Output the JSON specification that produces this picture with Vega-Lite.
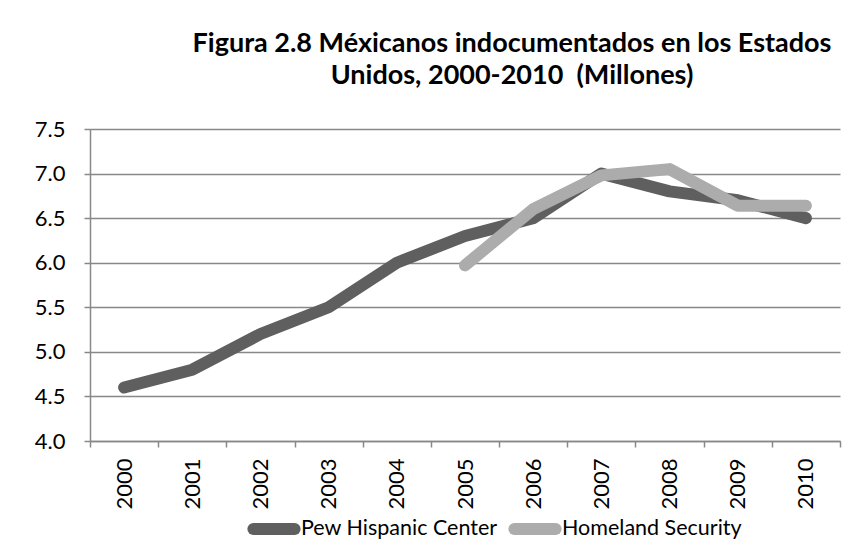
{
  "$schema": "https://vega.github.io/schema/vega-lite/v6.json",
  "width": 750,
  "height": 312,
  "autosize": "none",
  "padding": {"left": 90, "top": 129, "right": 18, "bottom": 110},
  "background": "white",
  "title": {
    "text": ["Figura 2.8 Méxicanos indocumentados en los Estados", "Unidos, 2000-2010 \u00a0(Millones)"],
    "font": "Lato",
    "fontSize": 27,
    "fontWeight": "bold",
    "color": "#000000",
    "anchor": "middle",
    "dx": 47,
    "lineHeight": 32,
    "offset": 28
  },
  "data": {
    "values": [
      {"year": "2000", "series": "Pew Hispanic Center", "value": 4.6},
      {"year": "2001", "series": "Pew Hispanic Center", "value": 4.8},
      {"year": "2002", "series": "Pew Hispanic Center", "value": 5.2},
      {"year": "2003", "series": "Pew Hispanic Center", "value": 5.5},
      {"year": "2004", "series": "Pew Hispanic Center", "value": 6.0},
      {"year": "2005", "series": "Pew Hispanic Center", "value": 6.3},
      {"year": "2006", "series": "Pew Hispanic Center", "value": 6.5},
      {"year": "2007", "series": "Pew Hispanic Center", "value": 7.0},
      {"year": "2008", "series": "Pew Hispanic Center", "value": 6.8},
      {"year": "2009", "series": "Pew Hispanic Center", "value": 6.7},
      {"year": "2010", "series": "Pew Hispanic Center", "value": 6.5},
      {"year": "2005", "series": "Homeland Security", "value": 5.97},
      {"year": "2006", "series": "Homeland Security", "value": 6.6},
      {"year": "2007", "series": "Homeland Security", "value": 6.98},
      {"year": "2008", "series": "Homeland Security", "value": 7.05},
      {"year": "2009", "series": "Homeland Security", "value": 6.64},
      {"year": "2010", "series": "Homeland Security", "value": 6.64}
    ]
  },
  "mark": {"type": "line", "strokeWidth": 12, "strokeCap": "round", "strokeJoin": "round"},
  "encoding": {
    "x": {
      "field": "year",
      "type": "ordinal",
      "title": null,
      "scale": {"paddingInner": 0, "paddingOuter": 0},
      "axis": {
        "labelAngle": -90,
        "labelFont": "Lato",
        "labelFontSize": 22,
        "labelColor": "#000000",
        "labelPadding": 11,
        "tickBand": "extent",
        "tickSize": 6,
        "tickColor": "#888888",
        "domainColor": "#888888",
        "tickWidth": 1.5,
        "domainWidth": 1.5,
        "grid": false
      }
    },
    "y": {
      "field": "value",
      "type": "quantitative",
      "title": null,
      "scale": {"domain": [4, 7.5], "nice": false, "zero": false},
      "axis": {
        "values": [4, 4.5, 5, 5.5, 6, 6.5, 7, 7.5],
        "format": ".1f",
        "labelFont": "Lato",
        "labelFontSize": 22,
        "labelColor": "#000000",
        "labelPadding": 19,
        "tickSize": 6,
        "tickColor": "#888888",
        "domainColor": "#888888",
        "gridColor": "#888888",
        "gridWidth": 1.5,
        "tickWidth": 1.5,
        "domainWidth": 1.5
      }
    },
    "color": {
      "field": "series",
      "type": "nominal",
      "sort": ["Pew Hispanic Center", "Homeland Security"],
      "scale": {"domain": ["Pew Hispanic Center", "Homeland Security"], "range": ["#5f5f5f", "#acacac"]},
      "legend": {
        "title": null,
        "orient": "none",
        "direction": "horizontal",
        "legendX": 157,
        "legendY": 373,
        "symbolType": "stroke",
        "symbolStrokeWidth": 12,
        "symbolSize": 1700,
        "labelFont": "Lato",
        "labelFontSize": 21.5,
        "labelLimit": 0,
        "labelColor": "#000000",
        "labelOffset": 0,
        "columnPadding": -8,
        "encode": {"symbols": {"update": {"strokeCap": {"value": "round"}}}}
      }
    }
  },
  "config": {"view": {"stroke": null}}
}
